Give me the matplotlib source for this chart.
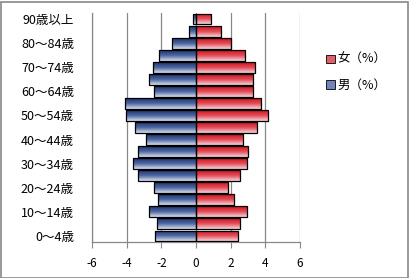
import numpy as np
import matplotlib
matplotlib.use("Agg")
import matplotlib.pyplot as plt
from matplotlib.colors import LinearSegmentedColormap
from matplotlib.patches import Rectangle

plt.rcParams['font.family'] = ['Noto Sans CJK JP', 'DejaVu Sans']

ages = ["0～4歳", "5～9歳", "10～14歳", "15～19歳", "20～24歳", "25～29歳",
        "30～34歳", "35～39歳", "40～44歳", "45～49歳", "50～54歳", "55～59歳",
        "60～64歳", "65～69歳", "70～74歳", "75～79歳", "80～84歳", "85～89歳",
        "90歳以上"]
male = [2.37, 2.26, 2.72, 2.20, 2.43, 3.35, 3.64, 3.35, 2.87, 3.53,
        4.02, 4.10, 2.41, 2.70, 2.49, 2.12, 1.37, 0.39, 0.18]
female = [2.41, 2.52, 2.93, 2.18, 1.85, 2.52, 2.93, 2.99, 2.70, 3.50,
          4.14, 3.73, 3.27, 3.27, 3.39, 2.81, 2.00, 1.43, 0.89]
xticks = [-6, -4, -2, 0, 2, 4, 6]

W, H = 410, 278
fig = plt.figure(figsize=(W / 100, H / 100), dpi=100)
ax = fig.add_axes([92 / W, 1 - 242 / H, 208 / W, 229 / H])

y = np.arange(len(ages))
bh = 0.9
mbars = ax.barh(y, [-v for v in male], height=bh, color='none',
                edgecolor='black', linewidth=0.9, zorder=3, label='男（%）')
fbars = ax.barh(y, female, height=bh, color='none',
                edgecolor='black', linewidth=0.9, zorder=3, label='女（%）')

cm_m = LinearSegmentedColormap.from_list('m', ['#1c3270', '#4e68a0', '#dae1ef'])
cm_f = LinearSegmentedColormap.from_list('f', ['#d4101c', '#e24e5a', '#f6d6dc'])
grad = np.linspace(0, 1, 64).reshape(-1, 1)
for bars, cm in ((mbars, cm_m), (fbars, cm_f)):
    for p in bars:
        x0, y0 = p.get_x(), p.get_y()
        w, h = p.get_width(), p.get_height()
        im = ax.imshow(grad, cmap=cm, aspect='auto', origin='lower',
                       extent=[min(x0, x0 + w), max(x0, x0 + w), y0 + h, y0],
                       zorder=2, interpolation='bilinear')
        im.set_clip_path(p)

ax.set_xlim(-6, 6)
ax.set_ylim(-0.5, len(ages) - 0.5)
ax.set_xticks(xticks)
ax.set_xticklabels([str(t) for t in xticks], fontsize=8.5)
ax.set_yticks(y[::2])
ax.set_yticklabels(ages[::2], fontsize=9)
ax.tick_params(axis='y', length=0, pad=13)
ax.tick_params(axis='x', length=4, color='#888888', direction='out', pad=7)
ax.grid(axis='x', color='#888888', linewidth=0.9, zorder=1)
ax.set_axisbelow(True)
for s in ['top', 'right']:
    ax.spines[s].set_visible(False)
for s in ['left', 'bottom']:
    ax.spines[s].set_color('#888888')
    ax.spines[s].set_linewidth(0.9)

# legend (female first)
hm = Rectangle((0, 0), 1, 1, facecolor='#6f85b6', edgecolor='black', linewidth=0.6)
hf = Rectangle((0, 0), 1, 1, facecolor='#e0606a', edgecolor='black', linewidth=0.6)
leg = fig.legend([hf, hm], ['女（%）', '男（%）'], loc='upper left',
                 bbox_to_anchor=(315 / W, 1 - 42 / H), frameon=False,
                 fontsize=9, handlelength=0.7, handleheight=0.7,
                 handletextpad=0.2, labelspacing=1.0)

fig.patches.append(Rectangle((0.5 / W, 0.5 / H), 1 - 2 / W, 1 - 2 / H,
                             transform=fig.transFigure, fill=False,
                             edgecolor='#888888', linewidth=1.2))
fig.savefig('out.png', dpi=100)
